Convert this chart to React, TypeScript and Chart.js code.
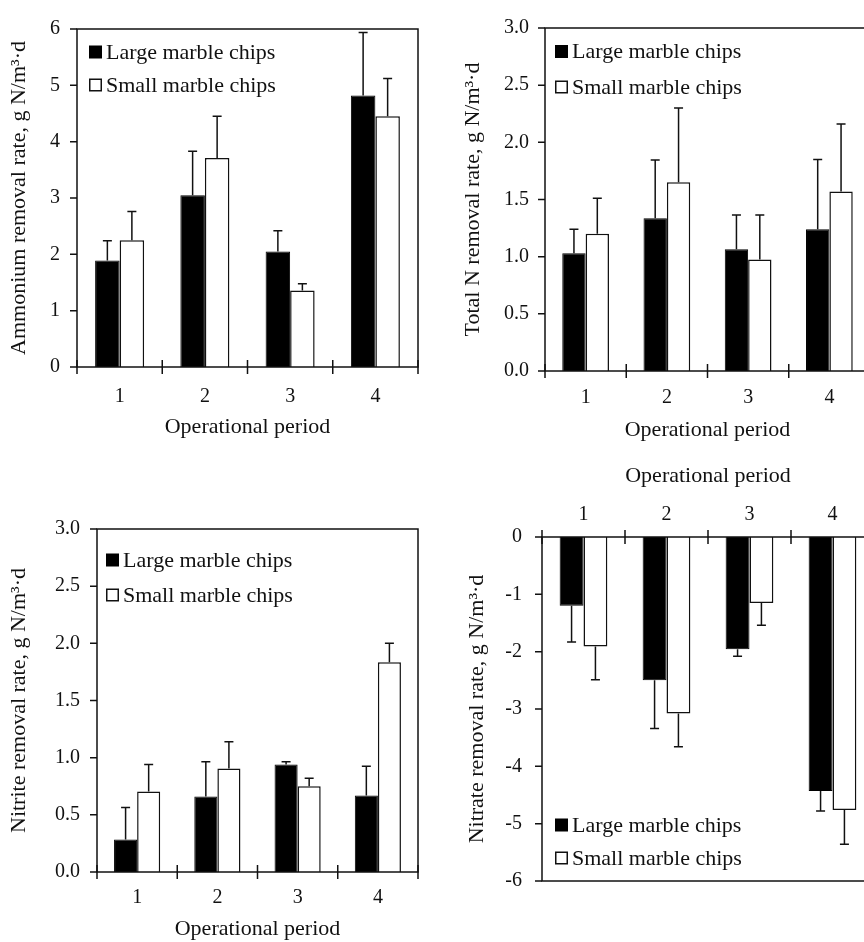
import React, { useEffect, useRef } from "react";
import { Chart, registerables } from "chart.js";

Chart.register(...registerables);

// ---------- data ----------
const periods = ["1", "2", "3", "4"];
const seriesNames = ["Large marble chips", "Small marble chips"];

const ammoniumLarge = [1.89, 3.05, 2.05, 4.82];
const ammoniumLargeErr = [0.35, 0.78, 0.37, 1.12];
const ammoniumSmall = [2.25, 3.71, 1.36, 4.45];
const ammoniumSmallErr = [0.51, 0.74, 0.12, 0.67];

const totalNLarge = [1.03, 1.335, 1.065, 1.24];
const totalNLargeErr = [0.21, 0.51, 0.3, 0.61];
const totalNSmall = [1.2, 1.65, 0.975, 1.57];
const totalNSmallErr = [0.31, 0.65, 0.39, 0.59];

const nitriteLarge = [0.285, 0.66, 0.94, 0.67];
const nitriteLargeErr = [0.28, 0.305, 0.025, 0.255];
const nitriteSmall = [0.705, 0.905, 0.75, 1.835];
const nitriteSmallErr = [0.235, 0.235, 0.07, 0.165];

const nitrateLarge = [-1.2, -2.5, -1.96, -4.43];
const nitrateLargeErr = [0.63, 0.84, 0.12, 0.35];
const nitrateSmall = [-1.91, -3.08, -1.15, -4.76];
const nitrateSmallErr = [0.58, 0.58, 0.39, 0.6];

const xTitle = "Operational period";
const yTitles = [
  "Ammonium removal rate, g N/m³·d",
  "Total N removal rate, g N/m³·d",
  "Nitrite removal rate, g N/m³·d",
  "Nitrate removal rate, g N/m³·d",
];

// ---------- styles / layout ----------
const FONT = "'Liberation Serif', 'Times New Roman', serif";
const TICK_SIZE = 20;
const TEXT_SIZE = 22;
const TITLE_SIZE = 22;
const INK = "#111";

type PanelCfg = {
  left: number; top: number; width: number; height: number;
  pad: { top: number; right: number; bottom: number; left: number };
  yWidth: number; xHeight: number; xPos: "bottom" | "top";
  yMin: number; yMax: number; yStep: number; decimals: number;
  yTitle: string; yTitlePad: number; yTickPad: number; xTickPad: number; xTitlePad: number;
  large: number[]; largeErr: number[]; small: number[]; smallErr: number[];
  legend: { dx: number; y1: number; y2: number; fromBottom: boolean };
};

const panels: PanelCfg[] = [
  {
    left: 0, top: 0, width: 430, height: 440,
    pad: { top: 16, right: 12, bottom: 0, left: 0 },
    yWidth: 77, xHeight: 73, xPos: "bottom",
    yMin: 0, yMax: 6, yStep: 1, decimals: 0,
    yTitle: yTitles[0], yTitlePad: 6.4, yTickPad: 17, xTickPad: 18, xTitlePad: 0,
    large: ammoniumLarge, largeErr: ammoniumLargeErr, small: ammoniumSmall, smallErr: ammoniumSmallErr,
    legend: { dx: 12, y1: 23, y2: 56, fromBottom: false },
  },
  {
    left: 432, top: 0, width: 450, height: 444,
    pad: { top: 16, right: 12, bottom: 0, left: 0 },
    yWidth: 113, xHeight: 73, xPos: "bottom",
    yMin: 0, yMax: 3, yStep: 0.5, decimals: 1,
    yTitle: yTitles[1], yTitlePad: 28.4, yTickPad: 16, xTickPad: 15, xTitlePad: 0.8,
    large: totalNLarge, largeErr: totalNLargeErr, small: totalNSmall, smallErr: totalNSmallErr,
    legend: { dx: 10, y1: 23.5, y2: 59, fromBottom: false },
  },
  {
    left: 0, top: 500, width: 430, height: 442,
    pad: { top: 16, right: 12, bottom: 0, left: 0 },
    yWidth: 97, xHeight: 70, xPos: "bottom",
    yMin: 0, yMax: 3, yStep: 0.5, decimals: 1,
    yTitle: yTitles[2], yTitlePad: 6.4, yTickPad: 17, xTickPad: 14, xTitlePad: 0,
    large: nitriteLarge, largeErr: nitriteLargeErr, small: nitriteSmall, smallErr: nitriteSmallErr,
    legend: { dx: 9, y1: 31, y2: 66, fromBottom: false },
  },
  {
    left: 432, top: 460, width: 450, height: 482,
    pad: { top: 0, right: 8, bottom: 61, left: 0 },
    yWidth: 110, xHeight: 77, xPos: "top",
    yMin: -6, yMax: 0, yStep: 1, decimals: 0,
    yTitle: yTitles[3], yTitlePad: 31.8, yTickPad: 20, xTickPad: 10, xTitlePad: 3.4,
    large: nitrateLarge, largeErr: nitrateLargeErr, small: nitrateSmall, smallErr: nitrateSmallErr,
    legend: { dx: 13, y1: 56, y2: 23, fromBottom: true },
  },
];

function makeDecorPlugin(cfg: PanelCfg) {
  const errs = [cfg.largeErr, cfg.smallErr];
  return {
    id: "decor",
    afterDatasetsDraw(chart: any) {
      const ctx = chart.ctx;
      const y = chart.scales.y;
      ctx.save();
      ctx.strokeStyle = INK;
      ctx.lineWidth = 1.5;
      chart.data.datasets.forEach((ds: any, di: number) => {
        const meta = chart.getDatasetMeta(di);
        meta.data.forEach((bar: any, i: number) => {
          const v = ds.data[i] as number;
          const e = errs[di][i];
          const endY = y.getPixelForValue(v + Math.sign(v) * e);
          ctx.beginPath();
          ctx.moveTo(bar.x, bar.y);
          ctx.lineTo(bar.x, endY);
          ctx.moveTo(bar.x - 4.5, endY);
          ctx.lineTo(bar.x + 4.5, endY);
          ctx.stroke();
        });
      });
      ctx.restore();
    },
    afterDraw(chart: any) {
      const ctx = chart.ctx;
      const a = chart.chartArea;
      const x = chart.scales.x;
      const y = chart.scales.y;
      ctx.save();
      ctx.strokeStyle = INK;
      ctx.lineWidth = 1.5;
      ctx.strokeRect(a.left, a.top, a.right - a.left, a.bottom - a.top);
      ctx.beginPath();
      y.ticks.forEach((_t: any, i: number) => {
        const py = y.getPixelForTick(i);
        ctx.moveTo(a.left - 7, py);
        ctx.lineTo(a.left, py);
      });
      const axisY = cfg.xPos === "top" ? a.top : a.bottom;
      const n = x.ticks.length;
      for (let i = 0; i <= n; i++) {
        const px = a.left + ((a.right - a.left) * i) / n;
        ctx.moveTo(px, axisY - 7);
        ctx.lineTo(px, axisY + 7);
      }
      ctx.stroke();

      // legend
      const lg = cfg.legend;
      const sx = a.left + lg.dx;
      const ys = lg.fromBottom ? [a.bottom - lg.y1, a.bottom - lg.y2] : [a.top + lg.y1, a.top + lg.y2];
      ctx.font = `${TEXT_SIZE}px ${FONT}`;
      ctx.textBaseline = "middle";
      ctx.textAlign = "left";
      seriesNames.forEach((name, i) => {
        const cy = ys[i];
        if (i === 0) {
          ctx.fillStyle = "#000";
          ctx.fillRect(sx, cy - 6.5, 13, 13);
        } else {
          ctx.fillStyle = "#fff";
          ctx.fillRect(sx + 0.75, cy - 5.75, 11.5, 11.5);
          ctx.lineWidth = 1.5;
          ctx.strokeRect(sx + 0.75, cy - 5.75, 11.5, 11.5);
        }
        ctx.fillStyle = INK;
        ctx.fillText(name, sx + 17, cy + 1);
      });
      ctx.restore();
    },
  };
}

function Panel({ cfg }: { cfg: PanelCfg }) {
  const ref = useRef<HTMLCanvasElement | null>(null);
  useEffect(() => {
    if (!ref.current) return;
    const chart = new Chart(ref.current, {
      type: "bar",
      data: {
        labels: periods,
        datasets: [
          {
            label: seriesNames[0],
            data: cfg.large,
            backgroundColor: "#000",
            borderColor: "#000",
            borderWidth: 1,
          },
          {
            label: seriesNames[1],
            data: cfg.small,
            backgroundColor: "#fff",
            borderColor: INK,
            borderWidth: 1.5,
          },
        ],
      },
      options: {
        animation: false,
        responsive: false,
        maintainAspectRatio: false,
        devicePixelRatio: 1,
        events: [],
        layout: { padding: cfg.pad },
        datasets: { bar: { categoryPercentage: 0.575, barPercentage: 1 } },
        plugins: { legend: { display: false }, tooltip: { enabled: false } },
        scales: {
          x: {
            type: "category",
            position: cfg.xPos,
            offset: true,
            grid: { display: false, drawTicks: false },
            border: { display: false },
            ticks: {
              color: INK,
              font: { family: FONT, size: TICK_SIZE },
              padding: cfg.xTickPad,
              maxRotation: 0,
            },
            title: {
              display: true,
              text: xTitle,
              color: INK,
              font: { family: FONT, size: TITLE_SIZE },
              padding: { top: cfg.xTitlePad, bottom: cfg.xTitlePad },
            },
            afterFit: (s: any) => {
              s.height = cfg.xHeight;
            },
          },
          y: {
            type: "linear",
            min: cfg.yMin,
            max: cfg.yMax,
            grid: { display: false, drawTicks: false },
            border: { display: false },
            ticks: {
              stepSize: cfg.yStep,
              color: INK,
              font: { family: FONT, size: TICK_SIZE },
              padding: cfg.yTickPad,
              callback: (v: any) => Number(v).toFixed(cfg.decimals),
            },
            title: {
              display: true,
              text: cfg.yTitle,
              color: INK,
              font: { family: FONT, size: TITLE_SIZE },
              padding: { top: cfg.yTitlePad, bottom: 0 },
            },
            afterFit: (s: any) => {
              s.width = cfg.yWidth;
            },
          },
        },
      } as any,
      plugins: [makeDecorPlugin(cfg)],
    });
    return () => chart.destroy();
  }, [cfg]);
  return (
    <div style={{ position: "absolute", left: cfg.left, top: cfg.top, width: cfg.width, height: cfg.height }}>
      <canvas ref={ref} width={cfg.width} height={cfg.height} style={{ display: "block", width: cfg.width, height: cfg.height }} />
    </div>
  );
}

export default function App() {
  return (
    <div
      style={{
        position: "absolute",
        left: 0,
        top: 0,
        width: 864,
        height: 942,
        overflow: "hidden",
        background: "#fff",
      }}
    >
      {panels.map((p, i) => (
        <Panel key={i} cfg={p} />
      ))}
    </div>
  );
}
